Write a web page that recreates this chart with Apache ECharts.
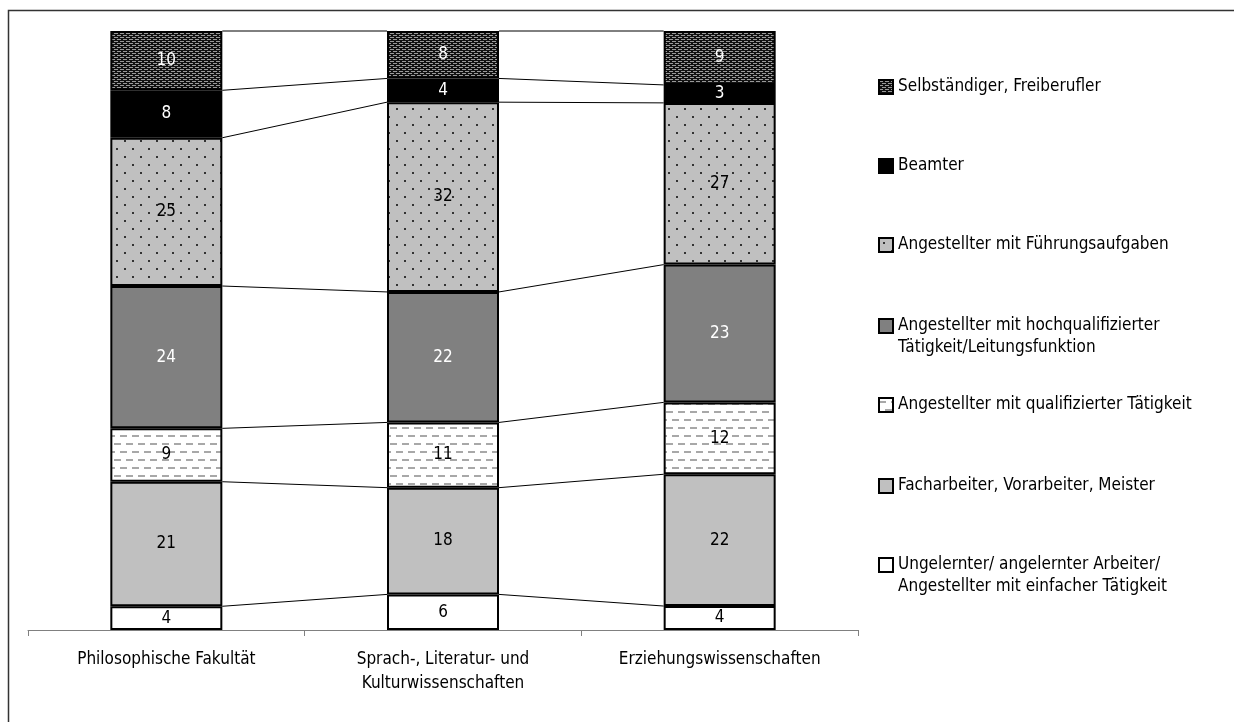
<!DOCTYPE html>
<html>
<head>
<meta charset="utf-8">
<script src="https://cdn.jsdelivr.net/npm/echarts@6/dist/echarts.min.js"></script>
<style>html,body{margin:0;padding:0;background:#fff}#c{width:1234px;height:722px}</style>
</head>
<body>
<div id="c"></div>
<script>
var categories = ['Philosophische Fakultät', 'Sprach-, Literatur- und\nKulturwissenschaften', 'Erziehungswissenschaften'];
var seriesNames = [
  'Ungelernter/ angelernter Arbeiter/\nAngestellter mit einfacher Tätigkeit',
  'Facharbeiter, Vorarbeiter, Meister',
  'Angestellter mit qualifizierter Tätigkeit',
  'Angestellter mit hochqualifizierter\nTätigkeit/Leitungsfunktion',
  'Angestellter mit Führungsaufgaben',
  'Beamter',
  'Selbständiger, Freiberufler'
];
var ungelernt = [4, 6, 4];
var facharbeiter = [21, 18, 22];
var qualifiziert = [9, 11, 12];
var hochqualifiziert = [24, 22, 23];
var fuehrung = [25, 32, 27];
var beamter = [8, 4, 3];
var selbstaendig = [10, 8, 9];
var values = [ungelernt, facharbeiter, qualifiziert, hochqualifiziert, fuehrung, beamter, selbstaendig];

var FONT = "'Liberation Sans Narrow', 'Arial Narrow', 'DejaVu Sans Condensed', sans-serif";

function makePattern(w, h, draw) {
  var c = document.createElement('canvas');
  c.width = w; c.height = h;
  var ctx = c.getContext('2d');
  draw(ctx);
  return { image: c, repeat: 'repeat' };
}
var patSelb = makePattern(6, 4, function (ctx) {
  ctx.fillStyle = '#111'; ctx.fillRect(0, 0, 6, 4);
  ctx.fillStyle = '#9a9a9a';
  ctx.fillRect(0, 1, 4, 1);
  ctx.fillRect(3, 3, 3, 1);
  ctx.fillRect(0, 3, 1, 1);
});
var patFuehr = makePattern(16, 16, function (ctx) {
  ctx.fillStyle = '#c0c0c0'; ctx.fillRect(0, 0, 16, 16);
  ctx.fillStyle = '#333';
  ctx.fillRect(4, 4, 2, 2);
  ctx.fillRect(12, 12, 2, 2);
});
var patQual = makePattern(12, 16, function (ctx) {
  ctx.fillStyle = '#fff'; ctx.fillRect(0, 0, 12, 16);
  ctx.fillStyle = '#a8a8a8';
  ctx.fillRect(0, 3, 7, 2);
  ctx.fillRect(6, 11, 7, 2);
  ctx.fillRect(0, 11, 1, 2);
});
var fills = ['#ffffff', '#c0c0c0', patQual, '#808080', patFuehr, '#000000', patSelb];
var labelColors = ['#000', '#000', '#000', '#fff', '#000', '#fff', '#fff'];

var n = categories.length;
var totals = [];
for (var i = 0; i < n; i++) {
  var s = 0;
  for (var k = 0; k < values.length; k++) s += values[k][i];
  totals.push(s);
}
var BAR_W = 112;
var series = values.map(function (arr, k) {
  return {
    name: seriesNames[k],
    type: 'bar',
    stack: 'all',
    barWidth: BAR_W,
    data: arr.map(function (v, i) { return v / totals[i] * 100; }),
    itemStyle: { color: fills[k], borderColor: '#000', borderWidth: 2 },
    label: {
      show: true, position: 'inside',
      color: labelColors[k], fontFamily: FONT, fontSize: 17,
      formatter: function (p) { return values[k][p.dataIndex]; }
    },
    emphasis: { disabled: true }
  };
});

// connector lines between bars
var connData = [];
for (var i = 0; i < n - 1; i++) {
  var c1 = 0, c2 = 0;
  for (var k = 0; k < values.length; k++) {
    c1 += values[k][i] / totals[i] * 100;
    c2 += values[k][i + 1] / totals[i + 1] * 100;
    connData.push([i, c1, c2]);
  }
}
series.push({
  type: 'custom',
  silent: true,
  data: connData,
  z: 1,
  renderItem: function (params, api) {
    var i = api.value(0);
    var p1 = api.coord([i, api.value(1)]);
    var p2 = api.coord([i + 1, api.value(2)]);
    var half = BAR_W / 2;
    return {
      type: 'line',
      shape: { x1: p1[0] + half, y1: p1[1], x2: p2[0] - half, y2: p2[1] },
      style: { stroke: '#000', lineWidth: 1 }
    };
  }
});

var legendCenters = [87, 166, 245, 326, 405, 486, 565];
var legendOrder = [6, 5, 4, 3, 2, 1, 0];
var legends = legendOrder.map(function (k, j) {
  var twoLine = seriesNames[k].indexOf('\n') >= 0;
  return {
    data: [seriesNames[k]],
    left: 878,
    top: legendCenters[j] - (twoLine ? 33 : 11),
    padding: 0,
    icon: 'rect',
    itemWidth: 14, itemHeight: 14, itemGap: 6,
    selectedMode: false,
    itemStyle: { borderColor: '#000', borderWidth: 2 },
    formatter: function (name) { return twoLine ? '\n' + name : name; },
    textStyle: {
      fontFamily: FONT, fontSize: 17, color: '#000', lineHeight: 22
    }
  };
});

var chart = echarts.init(document.getElementById('c'));
chart.setOption({
  animation: false,
  backgroundColor: '#fff',
  grid: { left: 28, right: 376, top: 31, bottom: 92 },
  legend: legends,
  xAxis: {
    type: 'category', data: categories,
    axisLine: { lineStyle: { color: '#808080', width: 1 } },
    axisTick: { show: true, length: 6, lineStyle: { color: '#808080' } },
    axisLabel: { interval: 0, color: '#000', fontFamily: FONT, fontSize: 17, lineHeight: 24, margin: 18 }
  },
  yAxis: { type: 'value', min: 0, max: 100, show: false, splitLine: { show: false } },
  series: series,
  graphic: [{
    type: 'rect', shape: { x: 8.5, y: 10.5, width: 1400, height: 900 },
    style: { fill: null, stroke: '#333', lineWidth: 1.5 }, silent: true
  }]
});
</script>
</body>
</html>
